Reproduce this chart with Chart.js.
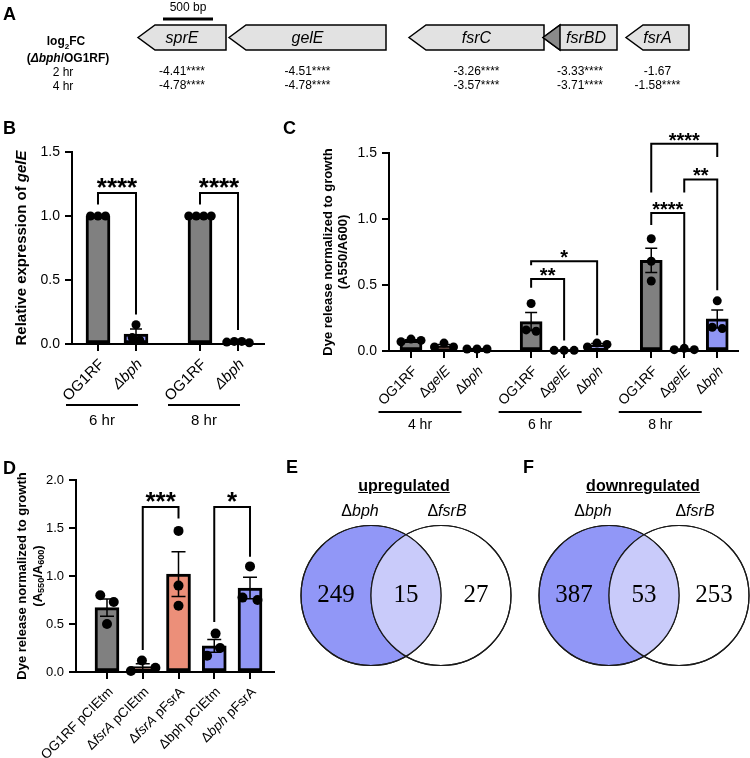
<!DOCTYPE html>
<html>
<head>
<meta charset="utf-8">
<script src="https://cdn.jsdelivr.net/npm/chart.js@4.4.1/dist/chart.umd.min.js"></script>
<style>
body { margin: 0; background: #fff; }
#fig { position: relative; width: 750px; height: 758px; overflow: hidden; background: #fff;
       font-family: "Liberation Sans", Arial, sans-serif; color: #000; }
#fig canvas { position: absolute; }
.t { position: absolute; white-space: nowrap; line-height: 1; transform: translate(-50%, -50%); }
.lbl { position: absolute; font-weight: bold; font-size: 18px; line-height: 1; }
</style>
</head>
<body>
<div id="fig">
  <canvas id="chartA" width="750" height="100" style="left:0;top:0"></canvas>
  <canvas id="chartB" width="300" height="330" style="left:0;top:110px"></canvas>
  <canvas id="chartC" width="450" height="330" style="left:300px;top:110px"></canvas>
  <canvas id="chartD" width="300" height="318" style="left:0;top:440px"></canvas>
  <canvas id="chartE" width="235" height="160" style="left:290px;top:515px"></canvas>
  <canvas id="chartF" width="222" height="160" style="left:528px;top:515px"></canvas>

  <div class="lbl" style="left:3px;top:5px">A</div>
  <div class="lbl" style="left:3px;top:119px">B</div>
  <div class="lbl" style="left:283px;top:119px">C</div>
  <div class="lbl" style="left:3px;top:459px">D</div>
  <div class="lbl" style="left:286px;top:458px">E</div>
  <div class="lbl" style="left:523px;top:458px">F</div>

  <div class="t" style="left:66px;top:43px;font-weight:bold;font-size:12px">log<sub style="font-size:8px">2</sub>FC</div>
  <div class="t" style="left:68px;top:58px;font-weight:bold;font-size:12px">(<i>Δbph</i>/OG1RF)</div>
  <div class="t" style="left:63px;top:72px;font-size:12px">2 hr</div>
  <div class="t" style="left:63px;top:86px;font-size:12px">4 hr</div>

  <div class="t" style="left:404px;top:486px;font-weight:bold;font-size:16px;text-decoration:underline">upregulated</div>
  <div class="t" style="left:643px;top:486px;font-weight:bold;font-size:16px;text-decoration:underline">downregulated</div>
  <div class="t" style="left:360px;top:511px;font-size:16px">Δ<i>bph</i></div>
  <div class="t" style="left:447px;top:511px;font-size:16px">Δ<i>fsrB</i></div>
  <div class="t" style="left:593px;top:511px;font-size:16px">Δ<i>bph</i></div>
  <div class="t" style="left:695px;top:511px;font-size:16px">Δ<i>fsrB</i></div>
</div>
<script>
const FONT = '"Liberation Sans", Arial, sans-serif';
Chart.defaults.font.family = FONT;
Chart.defaults.color = '#000';

// A: gelE / fsr locus, log2FC dbph vs OG1RF
const genes = ['sprE', 'gelE', 'fsrC', 'fsrBD', 'fsrA'];
const geneStart = [0, 910, 2710, 4050, 4880];   // bp, arrow tip side
const geneEnd = [880, 2480, 4060, 4790, 5510];
const fc2hr = [-4.41, -4.51, -3.26, -3.33, -1.67];
const sig2hr = ['****', '****', '****', '****', ''];
const fc4hr = [-4.78, -4.78, -3.57, -3.71, -1.58];
const sig4hr = ['****', '****', '****', '****', '****'];
const scaleBarBp = 500;

// B: relative gelE expression
const bLabels = ['OG1RF', '_Δbph_', 'OG1RF', '_Δbph_'];
const bGroups = ['6 hr', '8 hr'];
const bMeans = [1.0, 0.078, 1.0, 0.016];
const bSem = [0, 0.04, 0, 0.003];
const bPoints = [[1, 1, 1], [0.15, 0.05, 0.03], [1, 1, 1, 1], [0.02, 0.01, 0.02, 0.015]];
const bSig = [
  { a: 0, b: 1, top: 1.18, la: 1.09, lb: 0.23, text: '****' },
  { a: 2, b: 3, top: 1.18, la: 1.09, lb: 0.11, text: '****' }
];

// C: dye release over time
const cLabels = ['OG1RF', 'Δ_gelE_', 'Δ_bph_', 'OG1RF', 'Δ_gelE_', 'Δ_bph_', 'OG1RF', 'Δ_gelE_', 'Δ_bph_'];
const cGroups = ['4 hr', '6 hr', '8 hr'];
const cMeans = [0.08, 0.04, 0.015, 0.223, 0.005, 0.047, 0.687, 0.013, 0.243];
const cSem = [0.006, 0.01, 0.002, 0.068, 0.002, 0.009, 0.092, 0.003, 0.068];
const cPoints = [
  [0.07, 0.09, 0.08], [0.03, 0.06, 0.03], [0.015, 0.015, 0.015],
  [0.36, 0.16, 0.15], [0.005, 0.005, 0.005], [0.06, 0.05, 0.03],
  [0.85, 0.68, 0.53], [0.01, 0.02, 0.01], [0.38, 0.18, 0.17]
];
const cSig = [
  { a: 3, b: 4, top: 0.545, la: 0.48, lb: 0.08, text: '**' },
  { a: 3, b: 5, top: 0.68, la: 0.65, lb: 0.12, text: '*' },
  { a: 6, b: 7, top: 1.045, la: 0.955, lb: 0.05, text: '****' },
  { a: 7, b: 8, top: 1.30, la: 1.20, lb: 0.46, text: '**' },
  { a: 6, b: 8, top: 1.57, la: 1.20, lb: 1.47, text: '****' }
];

// D: fsrA complementation
const dLabels = ['OG1RF pCIEtm', 'Δ_fsrA_ pCIEtm', 'Δ_fsrA_ pFsrA', 'Δbph pCIEtm', 'Δ_bph_ pFsrA'];
const dMeans = [0.67, 0.057, 1.02, 0.273, 0.875];
const dSem = [0.09, 0.03, 0.233, 0.066, 0.113];
const dPoints = [[0.80, 0.73, 0.50], [0.12, 0.045, 0.01], [1.47, 0.90, 0.69], [0.40, 0.25, 0.17], [1.10, 0.75, 0.775]];
const dSig = [
  { a: 1, b: 2, top: 1.72, la: 0.23, lb: 1.60, text: '***' },
  { a: 3, b: 4, top: 1.72, la: 0.52, lb: 1.20, text: '*' }
];

// E, F: Venn counts [dbph only, shared, dfsrB only]
const upCounts = [249, 15, 27];
const downCounts = [387, 53, 253];

const GRAY = '#808080', PURPLE = '#9096f5', SALMON = '#ec8f79', BROWN = '#a0432e';

// text with _italic_ and ~subscript~ parts
function richText(ctx, str, x, y, size, weight, align) {
  const parts = str.split(/(_[^_]+_|~[^~]+~)/).filter(s => s).map(s => {
    if (s[0] === '_') return { t: s.slice(1, -1), it: true };
    if (s[0] === '~') return { t: s.slice(1, -1), sub: true };
    return { t: s };
  });
  const fontOf = p => `${p.it ? 'italic ' : ''}${weight} ${p.sub ? size * 0.7 : size}px ${FONT}`;
  let w = 0;
  parts.forEach(p => { ctx.font = fontOf(p); p.w = ctx.measureText(p.t).width; w += p.w; });
  let cx = align === 'center' ? x - w / 2 : align === 'right' ? x - w : x;
  ctx.textAlign = 'left';
  parts.forEach(p => {
    ctx.font = fontOf(p);
    ctx.fillText(p.t, cx, p.sub ? y + size * 0.3 : y);
    cx += p.w;
  });
}

// beeswarm: px offsets so replicate dots sit side by side, clusters re-centred
function swarm(vals, pxPerVal, gap) {
  const order = vals.map((v, i) => i).sort((a, b) => vals[b] - vals[a]);
  const offs = vals.map(() => 0);
  const placed = [];
  order.forEach(k => {
    const y = vals[k] * pxPerVal;
    for (let t = 0; t < 400; t++) {
      const o = t === 0 ? 0 : (t % 2 ? 1 : -1) * Math.ceil(t / 2) * 0.5;
      if (placed.every(p => Math.hypot(p.o - o, p.y - y) >= gap)) {
        offs[k] = o;
        placed.push({ o, y });
        break;
      }
    }
  });
  let cluster = [];
  const centre = () => {
    const m = cluster.reduce((s, k) => s + offs[k], 0) / cluster.length;
    cluster.forEach(k => { offs[k] -= m; });
    cluster = [];
  };
  order.forEach(k => {
    if (cluster.length && (vals[cluster[cluster.length - 1]] - vals[k]) * pxPerVal >= gap) centre();
    cluster.push(k);
  });
  centre();
  return offs;
}

// ---------- A ----------
const locusPlugin = {
  id: 'locus',
  afterDatasetsDraw(chart) {
    const ctx = chart.ctx, xS = chart.scales.x;
    const head = 17;
    ctx.save();
    ctx.lineWidth = 1.5;
    ctx.strokeStyle = '#000';
    chart.getDatasetMeta(0).data.forEach((el, i) => {
      const l = Math.min(el.x, el.base), r = Math.max(el.x, el.base);
      const t = el.y - el.height / 2, b = el.y + el.height / 2;
      ctx.beginPath();
      ctx.moveTo(l, el.y); ctx.lineTo(l + head, t); ctx.lineTo(r, t);
      ctx.lineTo(r, b); ctx.lineTo(l + head, b); ctx.closePath();
      ctx.fillStyle = '#e2e2e2';
      ctx.fill(); ctx.stroke();
      if (genes[i] === 'fsrBD') {
        ctx.beginPath();
        ctx.moveTo(l, el.y); ctx.lineTo(l + head, t); ctx.lineTo(l + head, b); ctx.closePath();
        ctx.fillStyle = '#8a8a8a';
        ctx.fill(); ctx.stroke();
      }
      const cx = (l + r) / 2;
      ctx.fillStyle = '#000';
      ctx.textAlign = 'center';
      ctx.textBaseline = 'middle';
      ctx.font = `italic 16px ${FONT}`;
      ctx.fillText(genes[i], cx + (genes[i] === 'fsrBD' ? 6 : 0), el.y + 1);
      ctx.font = `12px ${FONT}`;
      ctx.fillText(fc2hr[i].toFixed(2) + sig2hr[i], cx, 72);
      ctx.fillText(fc4hr[i].toFixed(2) + sig4hr[i], cx, 86);
    });
    const x0 = xS.getPixelForValue(250), x1 = xS.getPixelForValue(250 + scaleBarBp);
    ctx.lineWidth = 3;
    ctx.beginPath(); ctx.moveTo(x0, 19); ctx.lineTo(x1, 19); ctx.stroke();
    ctx.font = `12px ${FONT}`;
    ctx.fillText(scaleBarBp + ' bp', (x0 + x1) / 2, 8);
    ctx.restore();
  }
};

new Chart(document.getElementById('chartA'), {
  type: 'bar',
  data: {
    labels: ['locus'],
    datasets: [{
      data: genes.map((g, i) => ({ x: [geneStart[i], geneEnd[i]], y: 'locus' })),
      backgroundColor: 'rgba(0,0,0,0)',
      borderWidth: 0,
      barThickness: 25
    }]
  },
  options: {
    indexAxis: 'y',
    responsive: false,
    animation: false,
    devicePixelRatio: 1,
    layout: { autoPadding: false, padding: { top: 25, bottom: 50, left: 0, right: 0 } },
    plugins: { legend: { display: false }, tooltip: { enabled: false } },
    scales: {
      x: { type: 'linear', display: false, min: -1380, max: 6120 },
      y: { display: false }
    }
  },
  plugins: [locusPlugin]
});

// ---------- B, C, D ----------
function barPanel(id, c) {
  const cv = document.getElementById(id);
  const yAxisW = 40, tickLen = 7;
  const plotW = cv.width - c.pad.left - yAxisW - c.pad.right;
  const plotH = cv.height - c.pad.top - c.pad.bottom - tickLen;
  const pxX = plotW / (c.xMax - c.xMin);
  const pxY = plotH / c.yMax;
  const xs = c.labels.map((l, i) => Math.floor(i / c.perGroup) * c.groupGap + (i % c.perGroup));

  const pts = [];
  c.points.forEach((vals, i) => {
    const offs = swarm(vals, pxY, c.step);
    vals.forEach((v, j) => pts.push({ x: xs[i] + offs[j] / pxX, y: v }));
  });

  const deco = {
    id: 'deco',
    afterDatasetDraw(chart, args) {
      if (args.index !== 1) return;
      const ctx = chart.ctx, yS = chart.scales.y;
      ctx.save();
      ctx.strokeStyle = '#000';
      ctx.lineWidth = 1.5;
      args.meta.data.forEach((el, i) => {
        if (!c.sem[i]) return;
        const top = yS.getPixelForValue(c.means[i] + c.sem[i]);
        const bot = yS.getPixelForValue(Math.max(c.means[i] - c.sem[i], 0));
        ctx.beginPath();
        ctx.moveTo(el.x, top); ctx.lineTo(el.x, bot);
        ctx.moveTo(el.x - c.cap, top); ctx.lineTo(el.x + c.cap, top);
        ctx.moveTo(el.x - c.cap, bot); ctx.lineTo(el.x + c.cap, bot);
        ctx.stroke();
      });
      ctx.restore();
    },
    afterDraw(chart) {
      const ctx = chart.ctx, xS = chart.scales.x, yS = chart.scales.y, area = chart.chartArea;
      ctx.save();
      ctx.fillStyle = '#000';
      ctx.strokeStyle = '#000';
      ctx.textBaseline = 'middle';
      c.labels.forEach((lab, i) => {
        const px = xS.getPixelForValue(xs[i]);
        ctx.save();
        ctx.translate(px + 4, area.bottom + 18);
        ctx.rotate(-Math.PI / 4);
        richText(ctx, lab, 0, 0, c.xFont, 'normal', 'right');
        ctx.restore();
      });
      ctx.lineWidth = 2;
      c.groups.forEach((g, k) => {
        const i0 = k * c.perGroup, i1 = i0 + c.perGroup - 1;
        const cx = (xS.getPixelForValue(xs[i0]) + xS.getPixelForValue(xs[i1])) / 2 + c.grpShift;
        const ly = area.bottom + 61;
        ctx.beginPath(); ctx.moveTo(cx - c.grpHalf, ly); ctx.lineTo(cx + c.grpHalf, ly); ctx.stroke();
        ctx.font = `${c.xFont}px ${FONT}`;
        ctx.textAlign = 'center';
        ctx.fillText(g, cx, area.bottom + c.grpTextDy);
      });
      c.sig.forEach(s => {
        const xa = xS.getPixelForValue(xs[s.a]), xb = xS.getPixelForValue(xs[s.b]);
        const yt = yS.getPixelForValue(s.top);
        ctx.beginPath();
        ctx.moveTo(xa, yS.getPixelForValue(s.la));
        ctx.lineTo(xa, yt); ctx.lineTo(xb, yt);
        ctx.lineTo(xb, yS.getPixelForValue(s.lb));
        ctx.stroke();
        ctx.font = `bold ${c.starFont}px ${FONT}`;
        ctx.textAlign = 'center';
        ctx.textBaseline = 'alphabetic';
        ctx.fillText(s.text, (xa + xb) / 2, yt + 3);
      });
      ctx.textBaseline = 'middle';
      c.yTitle.forEach((line, k) => {
        ctx.save();
        ctx.translate(c.yTitleX[k], (area.top + area.bottom) / 2);
        ctx.rotate(-Math.PI / 2);
        richText(ctx, line, 0, 0, c.yTitleFont, 'bold', 'center');
        ctx.restore();
      });
      ctx.restore();
    }
  };

  const axisLine = { color: '#000', width: 2 };
  return new Chart(cv, {
    type: 'bar',
    data: {
      datasets: [
        {
          type: 'scatter', data: pts, pointRadius: c.dot, pointHoverRadius: c.dot,
          backgroundColor: '#000', borderWidth: 0, order: 0, clip: false
        },
        {
          type: 'bar', data: c.means.map((m, i) => ({ x: xs[i], y: m })),
          backgroundColor: c.colors, borderColor: '#000', borderWidth: 3,
          borderSkipped: false, barThickness: c.barW, order: 1, clip: false
        }
      ]
    },
    options: {
      responsive: false,
      animation: false,
      devicePixelRatio: 1,
      layout: { autoPadding: false, padding: c.pad },
      plugins: { legend: { display: false }, tooltip: { enabled: false } },
      scales: {
        x: {
          type: 'linear', min: c.xMin, max: c.xMax, offset: false,
          afterBuildTicks: s => { s.ticks = xs.map(v => ({ value: v })); },
          afterFit: s => { s.height = tickLen; },
          ticks: { display: false },
          grid: { offset: false, drawOnChartArea: false, color: '#000', lineWidth: 2, tickLength: tickLen },
          border: axisLine
        },
        y: {
          min: 0, max: c.yMax,
          afterFit: s => { s.width = yAxisW; },
          ticks: { stepSize: 0.5, padding: 5, color: '#000', font: { size: c.yFont }, callback: v => v.toFixed(1) },
          grid: { drawOnChartArea: false, color: '#000', lineWidth: 2, tickLength: tickLen },
          border: axisLine
        }
      }
    },
    plugins: [deco]
  });
}

barPanel('chartB', {
  labels: bLabels, groups: bGroups, means: bMeans, sem: bSem, points: bPoints, sig: bSig,
  colors: [GRAY, PURPLE, GRAY, PURPLE],
  perGroup: 2, groupGap: 2.684, xMin: -0.684, xMax: 4.368, yMax: 1.5,
  pad: { left: 32, top: 42, right: 36, bottom: 89 },
  barW: 24, dot: 4.5, step: 7.5, cap: 6,
  xFont: 15, yFont: 14, starFont: 26,
  grpShift: -15, grpHalf: 36, grpTextDy: 77,
  yTitle: ['Relative expression of _gelE_'], yTitleX: [22], yTitleFont: 15
});

barPanel('chartC', {
  labels: cLabels, groups: cGroups, means: cMeans, sem: cSem, points: cPoints, sig: cSig,
  colors: [GRAY, BROWN, PURPLE, GRAY, BROWN, PURPLE, GRAY, BROWN, PURPLE],
  perGroup: 3, groupGap: 3.64, xMin: -0.667, xMax: 9.909, yMax: 1.5,
  pad: { left: 49, top: 43, right: 12, bottom: 82 },
  barW: 22, dot: 4.5, step: 10, cap: 6,
  xFont: 14, yFont: 14, starFont: 20,
  grpShift: -24, grpHalf: 41.5, grpTextDy: 74,
  yTitle: ['Dye release normalized to growth', '(A550/A600)'], yTitleX: [28, 43], yTitleFont: 13
});

barPanel('chartD', {
  labels: dLabels, groups: [], means: dMeans, sem: dSem, points: dPoints, sig: dSig,
  colors: [GRAY, SALMON, SALMON, PURPLE, PURPLE],
  perGroup: 5, groupGap: 0, xMin: -0.867, xMax: 4.671, yMax: 2.0,
  pad: { left: 36, top: 40, right: 26, bottom: 79 },
  barW: 24, dot: 5, step: 15, cap: 7,
  xFont: 13.5, yFont: 13, starFont: 26,
  grpShift: 0, grpHalf: 0, grpTextDy: 0,
  yTitle: ['Dye release normalized to growth', '(A~550~/A~600~)'], yTitleX: [22, 38], yTitleFont: 13
});

// ---------- E, F ----------
function vennPanel(id, counts, xMin, xMax) {
  const r = 70;
  const lens = {
    id: 'lens',
    afterDatasetsDraw(chart) {
      const ctx = chart.ctx;
      const [a, b] = chart.getDatasetMeta(0).data;
      const xS = chart.scales.x, yS = chart.scales.y;
      ctx.save();
      ctx.beginPath(); ctx.arc(b.x, b.y, r, 0, Math.PI * 2); ctx.clip();
      ctx.beginPath(); ctx.arc(a.x, a.y, r, 0, Math.PI * 2);
      ctx.fillStyle = '#c9cbfa';
      ctx.fill();
      ctx.restore();
      ctx.save();
      ctx.lineWidth = 1.2;
      ctx.strokeStyle = '#1a1a1a';
      [a, b].forEach(p => { ctx.beginPath(); ctx.arc(p.x, p.y, r, 0, Math.PI * 2); ctx.stroke(); });
      ctx.fillStyle = '#000';
      ctx.font = '25px "Liberation Serif", "Times New Roman", serif';
      ctx.textAlign = 'center';
      ctx.textBaseline = 'middle';
      counts.forEach((n, k) => ctx.fillText(String(n), xS.getPixelForValue(k - 0.5), yS.getPixelForValue(0)));
      ctx.restore();
    }
  };
  new Chart(document.getElementById(id), {
    type: 'scatter',
    data: {
      datasets: [{
        data: [{ x: 0, y: 0 }, { x: 1, y: 0 }],
        pointRadius: r, pointHoverRadius: r,
        backgroundColor: ['#9197f7', 'rgba(255,255,255,0)'],
        borderColor: '#1a1a1a', borderWidth: 1.2, clip: false
      }]
    },
    options: {
      responsive: false,
      animation: false,
      devicePixelRatio: 1,
      layout: { autoPadding: false, padding: 0 },
      plugins: { legend: { display: false }, tooltip: { enabled: false } },
      scales: {
        x: { display: false, min: xMin, max: xMax },
        y: { display: false, min: -1.136, max: 1.15 }
      }
    },
    plugins: [lens]
  });
}

vennPanel('chartE', upCounts, -1.157, 2.2);
vennPanel('chartF', downCounts, -1.157, 2.014);
</script>
</body>
</html>
